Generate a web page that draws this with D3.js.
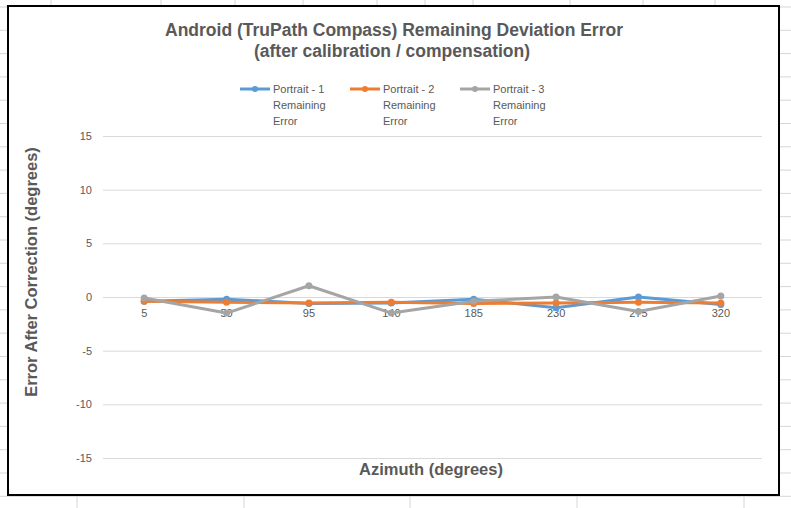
<!DOCTYPE html>
<html>
<head>
<meta charset="utf-8">
<script src="https://cdn.jsdelivr.net/npm/d3@7"></script>
<style>
  body { margin: 0; background: #fff; }
  text { font-family: "Liberation Sans", Arial, sans-serif; }
</style>
</head>
<body>
<div id="chart"></div>
<script>
// chart data
var azimuths = ["5", "50", "95", "140", "185", "230", "275", "320"];
var portrait1 = [-0.4, -0.2, -0.6, -0.55, -0.2, -1.0, 0.0, -0.7];
var portrait2 = [-0.4, -0.5, -0.55, -0.5, -0.6, -0.55, -0.5, -0.55];
var portrait3 = [-0.1, -1.5, 1.05, -1.5, -0.4, 0.0, -1.35, 0.1];
var seriesNames = ["Portrait - 1 Remaining Error", "Portrait - 2 Remaining Error", "Portrait - 3 Remaining Error"];
var yTicks = [-15, -10, -5, 0, 5, 10, 15];

var colors = ["#5B9BD5", "#ED7D31", "#A5A5A5"];
var series = [portrait1, portrait2, portrait3];

var svgWidth = 791;
var svgHeight = 508;

var svg = d3.select("#chart")
  .append("svg")
  .attr("width", svgWidth)
  .attr("height", svgHeight);

// spreadsheet cells behind the chart
var sheet = svg.append("g").attr("stroke", "#d6d6d6").attr("stroke-width", 1);
d3.range(7, svgHeight, 23.3).forEach(function(y) {
  sheet.append("line").attr("x1", 0).attr("x2", svgWidth).attr("y1", y).attr("y2", y);
});
[51, 161, 235, 303, 377, 425, 473, 570, 643, 715].forEach(function(x) {
  sheet.append("line").attr("x1", x).attr("x2", x).attr("y1", 0).attr("y2", 10);
});
[77, 244, 410, 577, 744].forEach(function(x) {
  sheet.append("line").attr("x1", x).attr("x2", x).attr("y1", 490).attr("y2", svgHeight);
});

// chart box
svg.append("rect")
  .attr("x", 8)
  .attr("y", 6)
  .attr("width", 771)
  .attr("height", 489)
  .attr("fill", "#fff")
  .attr("stroke", "#000")
  .attr("stroke-width", 2);

// title
var title = svg.append("text")
  .attr("text-anchor", "middle")
  .attr("fill", "#595959")
  .attr("font-weight", "bold")
  .attr("font-size", "17.5px");
title.append("tspan").attr("x", 394).attr("y", 36).text("Android (TruPath Compass) Remaining Deviation Error");
title.append("tspan").attr("x", 392).attr("y", 57).text("(after calibration / compensation)");

// scales
var plotLeft = 103, plotRight = 762;
var xScale = d3.scaleBand()
  .domain(azimuths)
  .range([plotLeft, plotRight]);

var yScale = d3.scaleLinear()
  .domain([-15, 15])
  .range([458, 136]);

// gridlines
var leftAxis = d3.axisLeft(yScale)
  .tickValues(yTicks)
  .tickFormat(function(d) { return String(d); })
  .tickSize(-(plotRight - plotLeft))
  .tickPadding(11);

var yAxis = svg.append("g")
  .attr("transform", `translate(${plotLeft}, 0)`)
  .call(leftAxis);
yAxis.select(".domain").remove();
yAxis.selectAll("line").attr("stroke", "#d9d9d9").attr("stroke-width", 1);
yAxis.selectAll("text")
  .attr("fill", "#595959")
  .attr("font-size", "11px")
  .attr("font-family", "Liberation Sans, Arial, sans-serif");

// category labels sit under the zero line
var bottomAxis = d3.axisBottom(xScale).tickSize(0).tickPadding(12);
var xAxis = svg.append("g")
  .attr("transform", `translate(0, ${yScale(0)})`)
  .call(bottomAxis);
xAxis.select(".domain").remove();
xAxis.selectAll("text")
  .attr("fill", "#595959")
  .attr("font-size", "11px")
  .attr("font-family", "Liberation Sans, Arial, sans-serif");

// lines and markers
var line = d3.line()
  .x(function(d, i) { return xScale(azimuths[i]) + xScale.bandwidth() / 2; })
  .y(function(d) { return yScale(d); });

series.forEach(function(values, s) {
  svg.append("path")
    .datum(values)
    .attr("fill", "none")
    .attr("stroke", colors[s])
    .attr("stroke-width", 3)
    .attr("stroke-linejoin", "round")
    .attr("d", line);

  svg.append("g").selectAll("circle")
    .data(values)
    .enter()
    .append("circle")
    .attr("cx", function(d, i) { return xScale(azimuths[i]) + xScale.bandwidth() / 2; })
    .attr("cy", function(d) { return yScale(d); })
    .attr("r", 3.5)
    .attr("fill", colors[s]);
});

// legend
var legendX = [240, 350, 460];
seriesNames.forEach(function(name, s) {
  var g = svg.append("g").attr("transform", `translate(${legendX[s]}, 89)`);
  g.append("line")
    .attr("x1", 0).attr("x2", 30)
    .attr("y1", 0).attr("y2", 0)
    .attr("stroke", colors[s])
    .attr("stroke-width", 3);
  g.append("circle").attr("cx", 15).attr("cy", 0).attr("r", 3).attr("fill", colors[s]);
  var words = ["Portrait - " + (s + 1), "Remaining", "Error"];
  var t = g.append("text")
    .attr("fill", "#595959")
    .attr("font-size", "11px");
  words.forEach(function(w, k) {
    t.append("tspan").attr("x", 33).attr("y", 4 + k * 16).text(w);
  });
});

// axis titles
svg.append("text")
  .attr("x", 431)
  .attr("y", 475)
  .attr("text-anchor", "middle")
  .attr("fill", "#595959")
  .attr("font-weight", "bold")
  .attr("font-size", "16.5px")
  .text("Azimuth (degrees)");

svg.append("text")
  .attr("transform", "translate(37, 272) rotate(-90)")
  .attr("text-anchor", "middle")
  .attr("fill", "#595959")
  .attr("font-weight", "bold")
  .attr("font-size", "16.5px")
  .text("Error After Correction (degrees)");
</script>
</body>
</html>
